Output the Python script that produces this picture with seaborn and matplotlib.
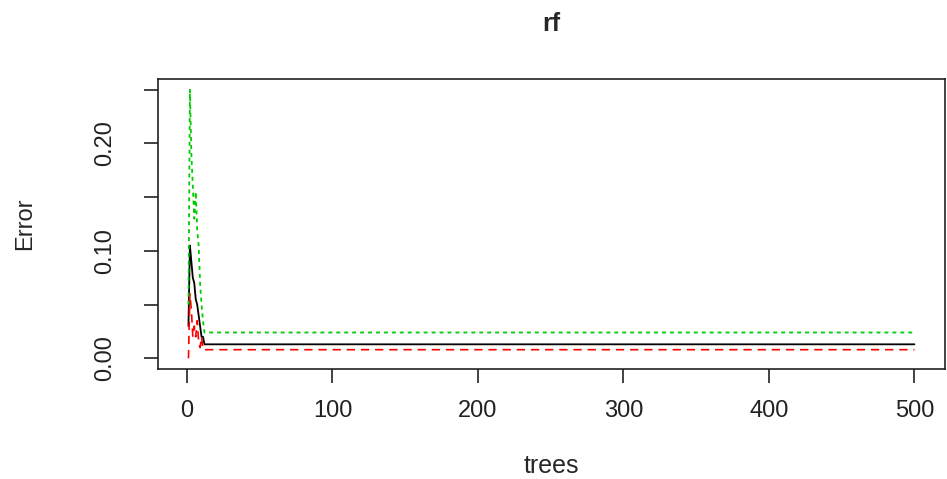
import numpy as np
import pandas as pd
import seaborn as sns
import matplotlib.pyplot as plt

# number of trees; the curves are flat after tree 13 up to 500
trees = [1, 2, 3, 4, 5, 6, 7, 8, 9, 10, 11, 12, 13, 500]
oob_error = [0.03, 0.105, 0.09, 0.075, 0.07, 0.055, 0.05, 0.04, 0.03, 0.02, 0.02, 0.013, 0.013, 0.013]
class1_error = [0.0, 0.06, 0.045, 0.02, 0.03, 0.02, 0.035, 0.015, 0.01, 0.02, 0.008, 0.008, 0.008, 0.008]
class2_error = [0.05, 0.25, 0.19, 0.16, 0.13, 0.155, 0.12, 0.105, 0.07, 0.05, 0.035, 0.024, 0.024, 0.024]

df = pd.DataFrame({'trees': trees, 'OOB': oob_error, 'c1': class1_error, 'c2': class2_error})

sns.set_style('white')
plt.rcParams['font.family'] = ['Liberation Sans', 'DejaVu Sans']

fig = plt.figure(figsize=(9.47, 4.79), dpi=100)
ax = fig.add_axes([0.1668, 0.2296, 0.8310, 0.6054])

sns.lineplot(data=df, x='trees', y='OOB', color='black', lw=1.3, ax=ax)
sns.lineplot(data=df, x='trees', y='c1', color='#ff0000', lw=1.2, ax=ax, linestyle=(0, (5, 3.5)))
sns.lineplot(data=df, x='trees', y='c2', color='#00cd00', lw=1.3, ax=ax, linestyle=(0, (2.2, 2.2)))

ax.set_xlim(-19.96, 520.96)
ax.set_ylim(-0.01, 0.26)
ax.set_xticks([0, 100, 200, 300, 400, 500])
ax.set_yticks([0, 0.05, 0.10, 0.15, 0.20, 0.25])
ax.set_yticklabels(['0.00', '', '0.10', '', '0.20', ''], rotation=90, va='center')
ax.tick_params(direction='out', length=10, width=1.2, labelsize=17, colors='#222222', left=True, bottom=True)
ax.tick_params(axis='x', pad=12)
ax.tick_params(axis='y', pad=20)
for s in ax.spines.values():
    s.set_color('#222222')
    s.set_linewidth(1.2)

ax.set_xlabel('trees', fontsize=18, va='center')
ax.xaxis.set_label_coords(0.5, -0.334)
ax.set_ylabel('Error', fontsize=17, va='center', ha='center')
ax.yaxis.set_label_coords(-0.169, 0.5)
ax.set_title('rf', fontsize=18, fontweight='bold', y=1.19, va='center', pad=0)

fig.savefig('out.png', dpi=100)
